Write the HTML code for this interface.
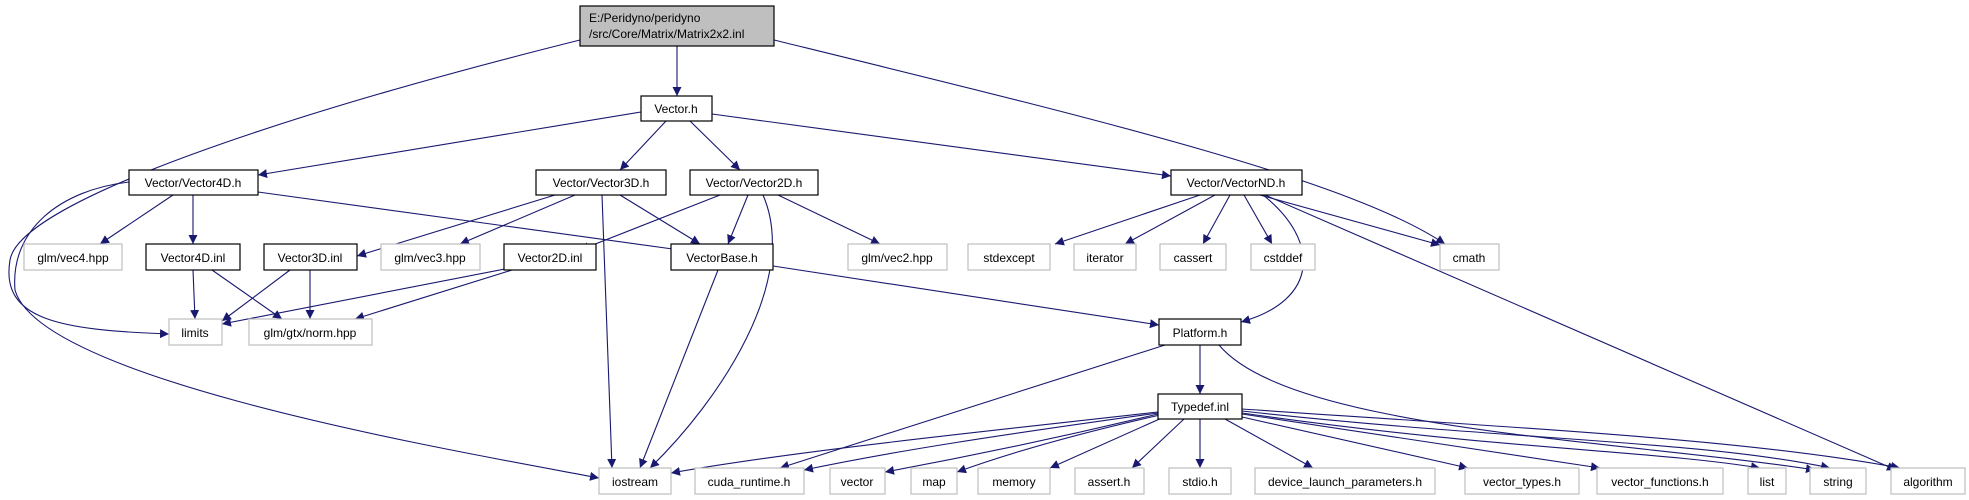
<!DOCTYPE html>
<html><head><meta charset="utf-8"><style>
html,body{margin:0;padding:0;background:#fff}
svg{display:block}
text{font-family:"Liberation Sans",sans-serif;font-size:12px;fill:#000;text-anchor:middle}
.n{fill:#fff;stroke:#000;stroke-width:1.2}
.g{fill:#fff;stroke:#bfbfbf;stroke-width:1.2}
.e{fill:none;stroke:#191970;stroke-width:1.1}
</style></head><body>
<svg width="1969" height="500" viewBox="0 0 1969 500" xmlns="http://www.w3.org/2000/svg">
<defs><marker id="a" viewBox="0 0 10 10" refX="10" refY="5" markerWidth="9" markerHeight="9" markerUnits="userSpaceOnUse" orient="auto"><path d="M0,0 L10,5 L0,10 z" fill="#191970"/></marker></defs>
<g class="e" marker-end="url(#a)">
<path d="M677,46 L677,96"/>
<path d="M580,40 C300,110 20,200 10,260 C0,320 60,330 169,334"/>
<path d="M129,182 C60,190 10,230 15,290 C40,380 450,450 599,478"/>
<path d="M774,40 C1100,120 1350,180 1445,244"/>
<path d="M641,112 L258,175"/>
<path d="M666,121 L620,170"/>
<path d="M690,121 L740,170"/>
<path d="M712,114 L1171,176"/>
<path d="M173,195 L100,244"/>
<path d="M193,195 L193,244"/>
<path d="M258,192 L680,250"/>
<path d="M555,195 L357,256"/>
<path d="M575,195 L460,244"/>
<path d="M620,195 L700,244"/>
<path d="M602,195 L612,468"/>
<path d="M720,195 L580,250"/>
<path d="M748,195 L728,244"/>
<path d="M763,195 C800,280 720,400 650,468"/>
<path d="M778,195 L880,244"/>
<path d="M193,270 L195,319"/>
<path d="M212,270 L282,319"/>
<path d="M290,270 L222,321"/>
<path d="M310,270 L310,319"/>
<path d="M510,268 L222,324"/>
<path d="M512,270 L355,319"/>
<path d="M718,270 L640,468"/>
<path d="M773,266 L1159,325"/>
<path d="M1200,195 L1055,244"/>
<path d="M1215,195 L1125,244"/>
<path d="M1230,195 L1203,244"/>
<path d="M1244,195 L1272,244"/>
<path d="M1260,195 L1440,245"/>
<path d="M1263,195 C1320,240 1320,300 1241,322"/>
<path d="M1265,195 L1896,470"/>
<path d="M1200,345 L1200,394"/>
<path d="M1165,345 L780,468"/>
<path d="M1219,345 C1290,430 1620,440 1815,470"/>
<path d="M1158,412 C1000,430 800,450 671,473"/>
<path d="M1158,413 C1000,435 900,450 804,470"/>
<path d="M1158,414 C1050,440 950,460 885,472"/>
<path d="M1160,415 C1050,440 990,460 957,472"/>
<path d="M1164,417 L1050,468"/>
<path d="M1184,419 L1132,468"/>
<path d="M1200,419 L1200,468"/>
<path d="M1225,419 L1313,468"/>
<path d="M1242,417 L1468,468"/>
<path d="M1242,414 L1600,468"/>
<path d="M1242,413 C1500,450 1650,450 1760,468"/>
<path d="M1242,411 C1500,440 1700,440 1830,468"/>
<path d="M1242,409 C1550,430 1750,440 1900,468"/>
</g>
<rect x="580" y="6" width="194" height="40" fill="#bfbfbf" stroke="#000" stroke-width="1.2"/>
<text x="589" y="22" style="text-anchor:start">E:/Peridyno/peridyno</text>
<text x="589" y="38" style="text-anchor:start">/src/Core/Matrix/Matrix2x2.inl</text>
<g>
<rect class="n" x="641" y="96" width="71" height="25"/><text x="676" y="113">Vector.h</text>
<rect class="n" x="129" y="170" width="129" height="25"/><text x="193" y="187">Vector/Vector4D.h</text>
<rect class="n" x="536" y="170" width="130" height="25"/><text x="601" y="187">Vector/Vector3D.h</text>
<rect class="n" x="690" y="170" width="128" height="25"/><text x="754" y="187">Vector/Vector2D.h</text>
<rect class="n" x="1171" y="170" width="131" height="25"/><text x="1236" y="187">Vector/VectorND.h</text>
<rect class="g" x="24" y="244" width="98" height="26"/><text x="73" y="262">glm/vec4.hpp</text>
<rect class="n" x="146" y="244" width="94" height="26"/><text x="193" y="262">Vector4D.inl</text>
<rect class="n" x="264" y="244" width="93" height="26"/><text x="310" y="262">Vector3D.inl</text>
<rect class="g" x="381" y="244" width="99" height="26"/><text x="430" y="262">glm/vec3.hpp</text>
<rect class="n" x="504" y="244" width="92" height="26"/><text x="550" y="262">Vector2D.inl</text>
<rect class="n" x="671" y="244" width="102" height="26"/><text x="722" y="262">VectorBase.h</text>
<rect class="g" x="848" y="244" width="99" height="26"/><text x="897" y="262">glm/vec2.hpp</text>
<rect class="g" x="968" y="244" width="82" height="26"/><text x="1009" y="262">stdexcept</text>
<rect class="g" x="1074" y="244" width="62" height="26"/><text x="1105" y="262">iterator</text>
<rect class="g" x="1160" y="244" width="66" height="26"/><text x="1193" y="262">cassert</text>
<rect class="g" x="1251" y="244" width="64" height="26"/><text x="1283" y="262">cstddef</text>
<rect class="g" x="1440" y="244" width="59" height="26"/><text x="1469" y="262">cmath</text>
<rect class="g" x="169" y="319" width="53" height="26"/><text x="195" y="337">limits</text>
<rect class="g" x="249" y="319" width="123" height="26"/><text x="310" y="337">glm/gtx/norm.hpp</text>
<rect class="n" x="1159" y="319" width="82" height="26"/><text x="1200" y="337">Platform.h</text>
<rect class="n" x="1158" y="394" width="84" height="25"/><text x="1200" y="411">Typedef.inl</text>
<rect class="g" x="599" y="468" width="72" height="26"/><text x="635" y="486">iostream</text>
<rect class="g" x="695" y="468" width="109" height="26"/><text x="749" y="486">cuda_runtime.h</text>
<rect class="g" x="830" y="468" width="55" height="26"/><text x="857" y="486">vector</text>
<rect class="g" x="911" y="468" width="46" height="26"/><text x="934" y="486">map</text>
<rect class="g" x="978" y="468" width="72" height="26"/><text x="1014" y="486">memory</text>
<rect class="g" x="1075" y="468" width="69" height="26"/><text x="1109" y="486">assert.h</text>
<rect class="g" x="1169" y="468" width="62" height="26"/><text x="1200" y="486">stdio.h</text>
<rect class="g" x="1255" y="468" width="180" height="26"/><text x="1345" y="486">device_launch_parameters.h</text>
<rect class="g" x="1465" y="468" width="114" height="26"/><text x="1522" y="486">vector_types.h</text>
<rect class="g" x="1597" y="468" width="126" height="26"/><text x="1660" y="486">vector_functions.h</text>
<rect class="g" x="1748" y="468" width="38" height="26"/><text x="1767" y="486">list</text>
<rect class="g" x="1810" y="468" width="56" height="26"/><text x="1838" y="486">string</text>
<rect class="g" x="1891" y="468" width="74" height="26"/><text x="1928" y="486">algorithm</text>
</g>
</svg>
</body></html>
